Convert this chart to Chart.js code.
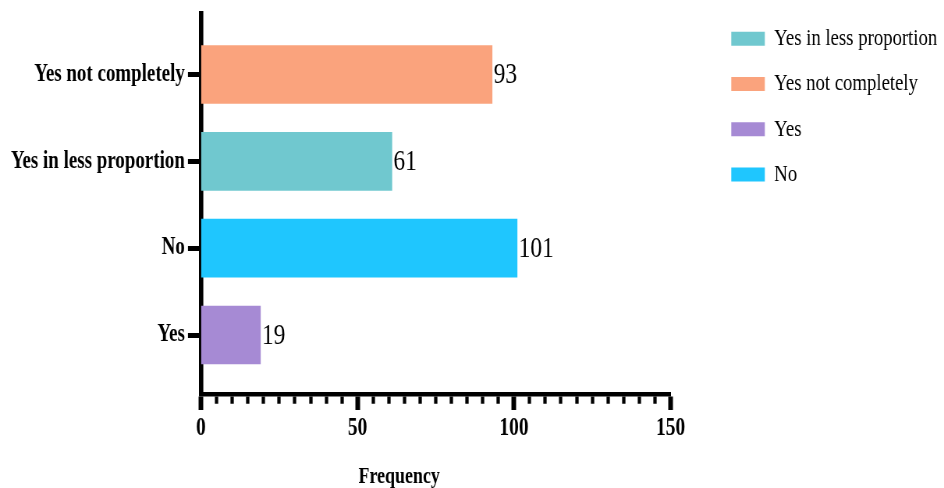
<!DOCTYPE html>
<html>
<head>
<meta charset="utf-8">
<title>Frequency</title>
<script src="https://cdn.jsdelivr.net/npm/chart.js@4.4.1/dist/chart.umd.min.js"></script>
<style>
  html, body { margin: 0; padding: 0; overflow: hidden; background: #fff; }
  #marco { width: 944px; height: 488px; overflow: hidden; }
  /* the source figure is horizontally squeezed, so draw wide and compress */
  #lienzo { width: 1210px; height: 488px; transform: scaleX(0.7802); transform-origin: 0 0; }
</style>
</head>
<body>
<div id="marco"><div id="lienzo"><canvas id="grafico"></canvas></div></div>
<script>
// categories from bottom to top of the axis
const categorias = ["Yes", "No", "Yes in less proportion", "Yes not completely"];
const valores = [19, 101, 61, 93];
const ordenLeyenda = ["Yes in less proportion", "Yes not completely", "Yes", "No"];
const xMin = 0;
const xMax = 150;
const pasoMayor = 50;
const pasoMenor = 5;

const COLORES = {
  "Yes in less proportion": "#70c8cf",
  "Yes not completely": "#faa37d",
  Yes: "#a68ad4",
  No: "#1fc6fe",
};

const FUENTE = "'Liberation Serif', 'Times New Roman', serif";
Chart.defaults.font.family = FUENTE;
Chart.defaults.color = "#000";

const esMayor = (c) => c.tick && c.tick.value % pasoMayor === 0;

// value labels next to the bars and the x axis title
const etiquetas = {
  id: "etiquetas",
  afterDatasetsDraw(chart) {
    const ctx = chart.ctx;
    const meta = chart.getDatasetMeta(0);
    ctx.save();
    ctx.fillStyle = "#000";
    ctx.font = "30px " + FUENTE;
    ctx.textAlign = "left";
    ctx.textBaseline = "middle";
    meta.data.forEach((barra, i) => ctx.fillText(String(valores[i]), barra.x + 2, barra.y + 1));

    const a = chart.chartArea;
    ctx.font = "bold 23px " + FUENTE;
    ctx.textAlign = "center";
    ctx.textBaseline = "alphabetic";
    ctx.fillText("Frequency", a.left + 0.422 * (a.right - a.left), 483);
    ctx.restore();
  },
};

new Chart(document.getElementById("grafico"), {
  type: "bar",
  data: {
    datasets: [
      {
        data: valores.map((v, i) => ({ x: v, y: i })),
        backgroundColor: categorias.map((c) => COLORES[c]),
        borderWidth: 0,
        barThickness: 58,
      },
    ],
  },
  options: {
    indexAxis: "y",
    responsive: true,
    maintainAspectRatio: false,
    animation: false,
    layout: { padding: { top: 5.4, left: 0, right: 0, bottom: 0 } },
    scales: {
      x: {
        type: "linear",
        min: xMin,
        max: xMax,
        afterFit: (s) => { s.height = 93.5; },
        grid: {
          drawOnChartArea: false,
          tickLength: 15.5,
          tickColor: "#000",
          tickWidth: (c) => (esMayor(c) ? 6 : 4.3),
          tickBorderDash: (c) => (esMayor(c) ? [] : [7.25, 40]),
        },
        border: { display: true, color: "#000", width: 4.5 },
        ticks: {
          stepSize: pasoMenor,
          maxTicksLimit: 100,
          autoSkip: false,
          maxRotation: 0,
          padding: 4,
          color: "#000",
          font: { size: 25, weight: "bold" },
          callback: (v) => (v % pasoMayor === 0 ? v : ""),
        },
      },
      y: {
        type: "linear",
        min: -0.685,
        max: 3.705,
        offset: false,
        afterFit: (s) => {
          s.width = 257.6;
          s.paddingTop = 0;
          s.paddingBottom = 0;
        },
        grid: { offset: false, drawOnChartArea: false, tickLength: 16.7, tickWidth: 5, tickColor: "#000" },
        border: { display: true, color: "#000", width: 5.6 },
        ticks: {
          stepSize: 1,
          includeBounds: false,
          padding: 4,
          color: "#000",
          font: { size: 24.3, weight: "bold" },
          callback: (v) => categorias[v] ?? "",
        },
      },
      // empty spacers: keep the legend above and away from the plot
      arriba: {
        type: "linear", axis: "x", position: "top",
        grid: { display: false }, border: { display: false }, ticks: { display: false },
        afterFit: (s) => { s.height = 7.9; },
      },
      derecha: {
        type: "linear", axis: "y", position: "right",
        grid: { display: false }, border: { display: false }, ticks: { display: false },
        afterFit: (s) => { s.width = 56.6; },
      },
    },
    plugins: {
      tooltip: { enabled: false },
      legend: {
        position: "right",
        align: "start",
        maxWidth: 294,
        labels: {
          boxWidth: 43,
          boxHeight: 14,
          padding: 21.3,
          color: "#000",
          font: { size: 24 },
          generateLabels: () =>
            ordenLeyenda.map((n) => ({
              text: n,
              fillStyle: COLORES[n],
              strokeStyle: COLORES[n],
              lineWidth: 0,
              hidden: false,
            })),
        },
      },
    },
  },
  plugins: [etiquetas],
});
</script>
</body>
</html>
